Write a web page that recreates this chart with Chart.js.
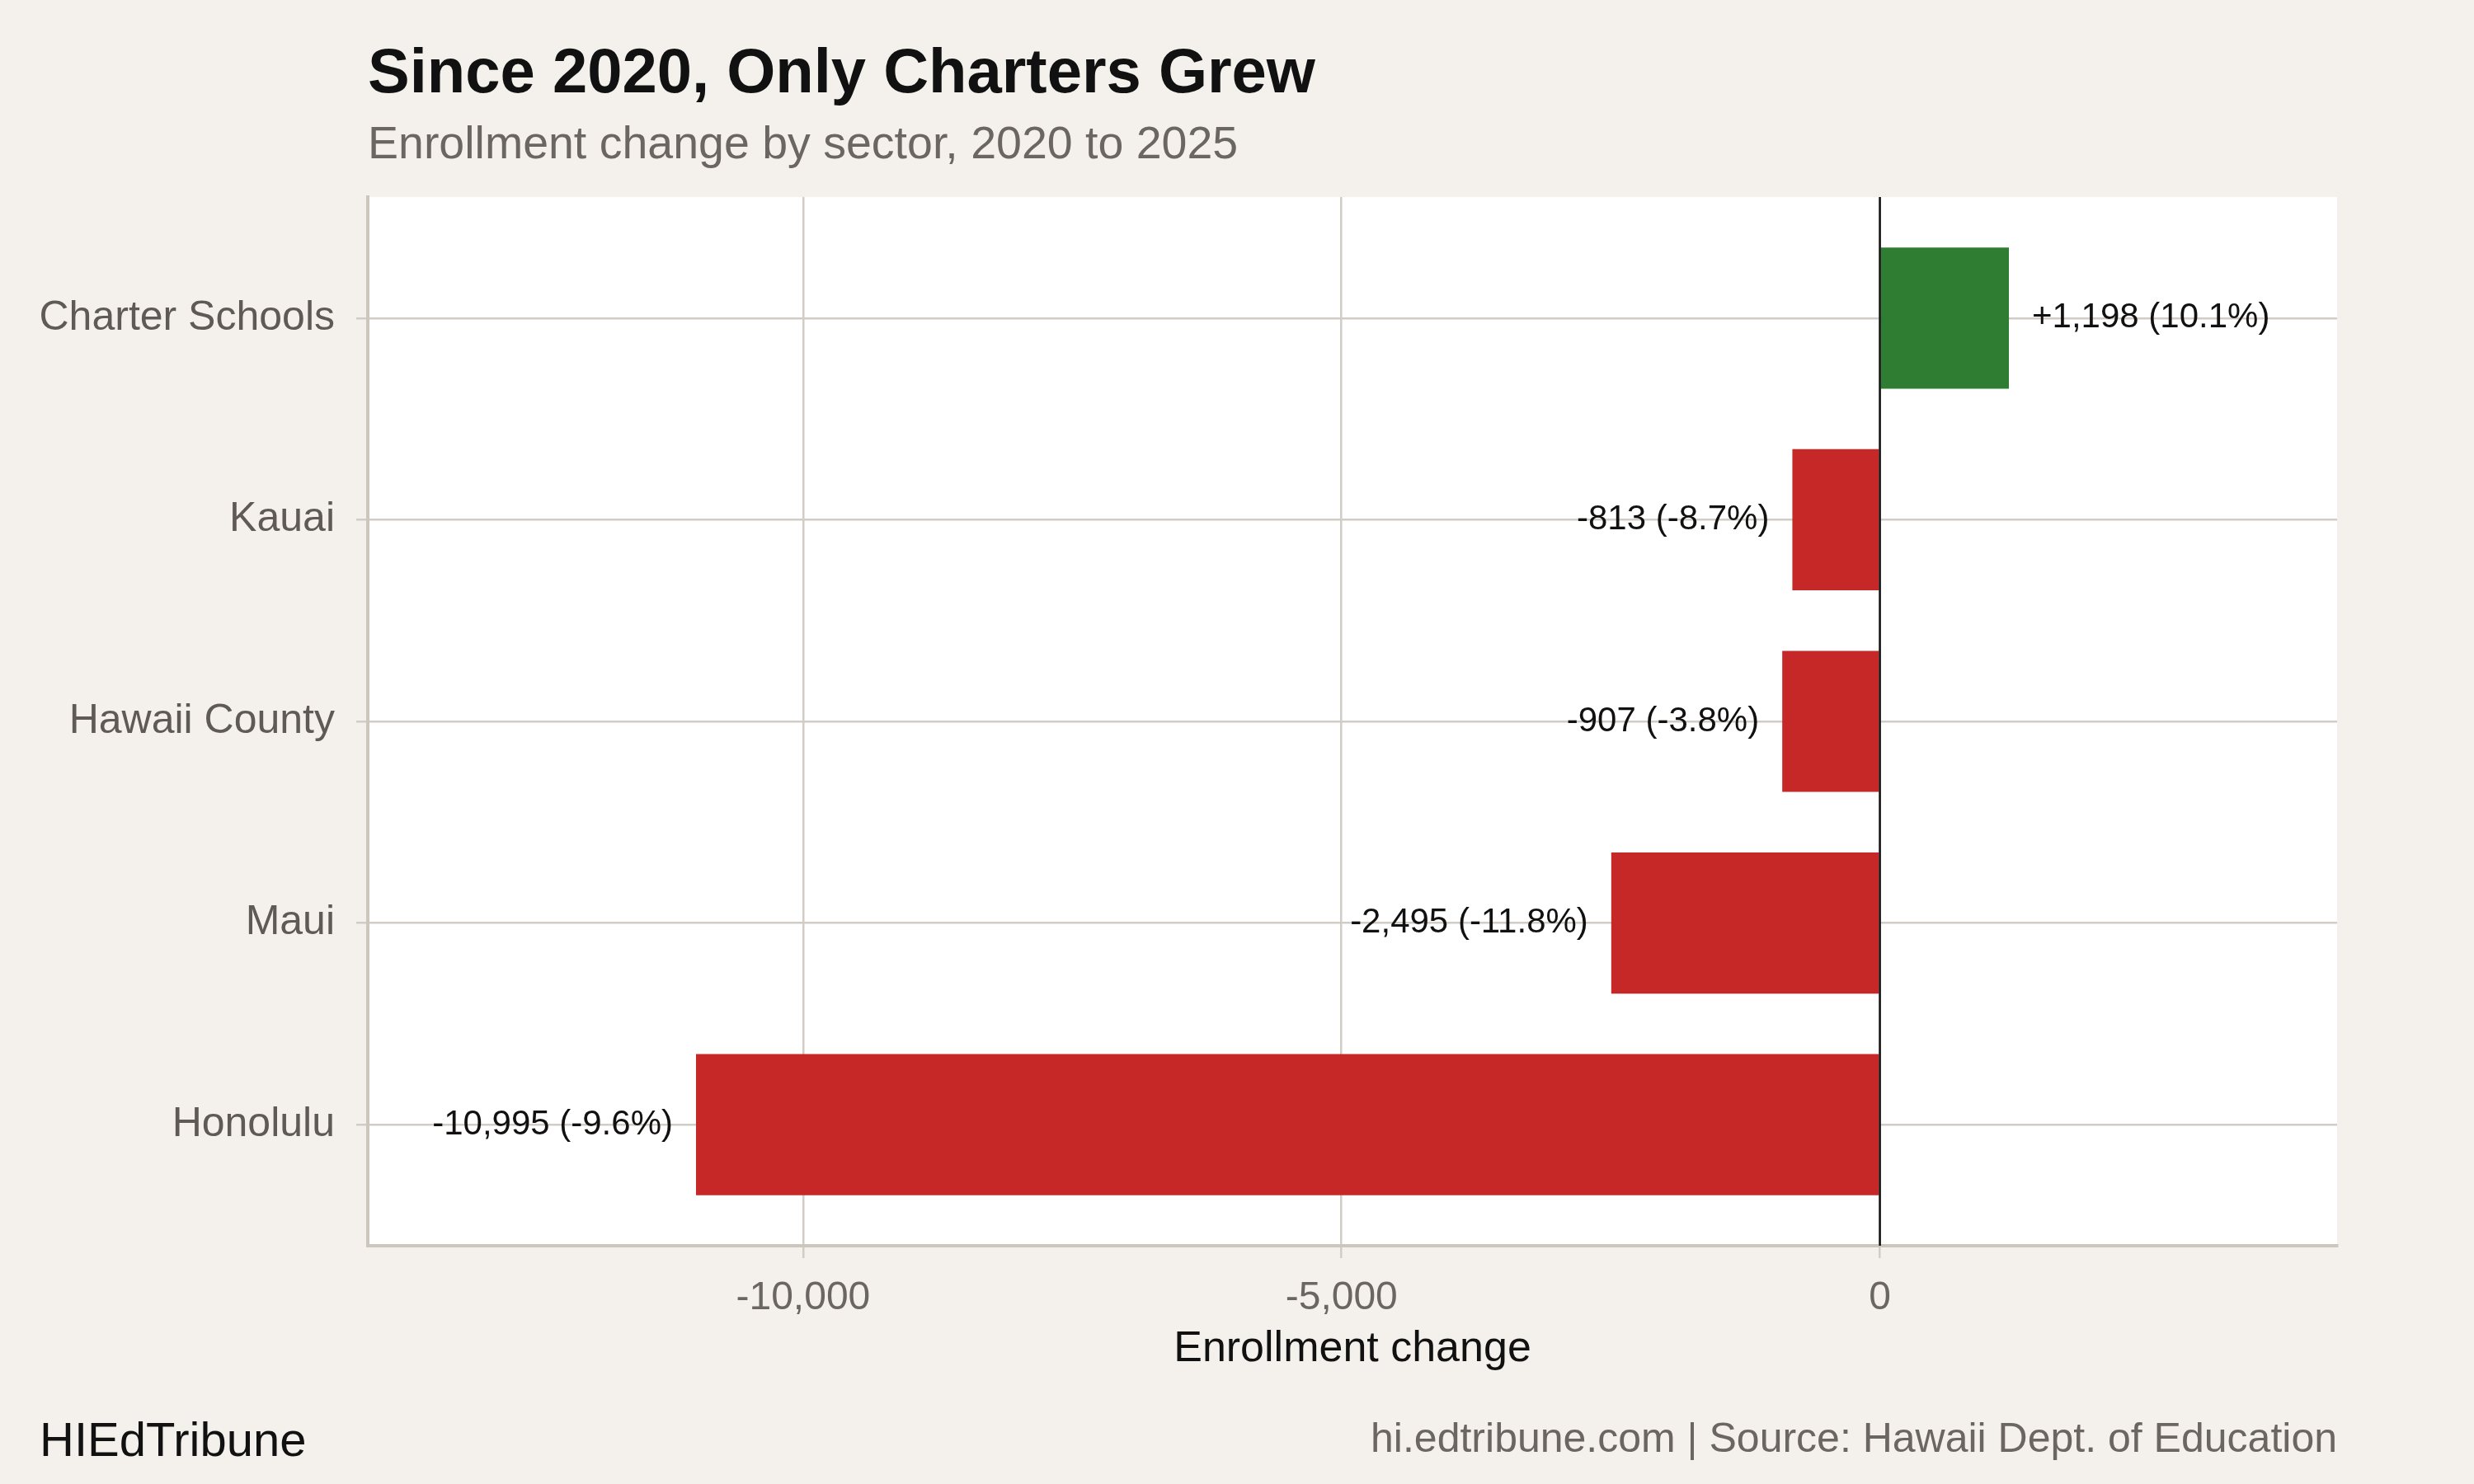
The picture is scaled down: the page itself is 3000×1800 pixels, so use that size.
<!DOCTYPE html>
<html>
<head>
<meta charset="utf-8">
<script src="https://cdn.jsdelivr.net/npm/chart.js@4"></script>
<style>
  body { margin: 0; background: #f4f1ec; }
  canvas { display: block; }
</style>
</head>
<body>
<canvas id="myChart" width="3000" height="1800"></canvas>
<script>
// data
var sectors = ['Charter Schools', 'Kauai', 'Hawaii County', 'Maui', 'Honolulu'];
var changes = [1198, -813, -907, -2495, -10995];
var pcts = [10.1, -8.7, -3.8, -11.8, -9.6];
var xTicks = [-10000, -5000, 0];
var xMin = -14043;
var xMax = 4246;

var FONT = "'Liberation Sans', Arial, Helvetica, sans-serif";
var GREEN = '#2e7d32';
var RED = '#c62828';
var GRID = '#d1ccc5';

function fmtNum(v) {
	return (v > 0 ? '+' : '') + v.toLocaleString('en-US');
}

var backdrop = {
	id: 'backdrop',
	beforeDraw: function(chart) {
		var c = chart.ctx, a = chart.chartArea;
		c.save();
		c.fillStyle = '#f4f1ec';
		c.fillRect(0, 0, chart.width, chart.height);
		c.fillStyle = '#ffffff';
		c.fillRect(a.left, a.top, a.right - a.left, a.bottom - a.top);
		c.restore();
	}
};

var annotations = {
	id: 'annotations',
	afterDatasetsDraw: function(chart) {
		var c = chart.ctx, a = chart.chartArea;
		var x0 = chart.scales.x.getPixelForValue(0);
		c.save();
		// zero line
		c.strokeStyle = '#111111';
		c.lineWidth = 2.5;
		c.beginPath();
		c.moveTo(x0, a.top);
		c.lineTo(x0, a.bottom);
		c.stroke();

		// bar labels
		var meta = chart.getDatasetMeta(0);
		c.font = '42px ' + FONT;
		c.fillStyle = '#111111';
		c.textBaseline = 'middle';
		meta.data.forEach(function(bar, i) {
			var txt = fmtNum(changes[i]) + ' (' + pcts[i].toFixed(1) + '%)';
			if (changes[i] >= 0) {
				c.textAlign = 'left';
				c.fillText(txt, bar.x + 28, bar.y);
			} else {
				c.textAlign = 'right';
				c.fillText(txt, bar.x - 28, bar.y);
			}
		});
		c.restore();
	},
	afterDraw: function(chart) {
		var c = chart.ctx, a = chart.chartArea;
		c.save();
		c.textBaseline = 'alphabetic';
		c.textAlign = 'left';
		c.fillStyle = '#111111';
		c.font = 'bold 76px ' + FONT;
		c.fillText('Since 2020, Only Charters Grew', a.left, 112);
		c.fillStyle = '#6b6661';
		c.font = '55.5px ' + FONT;
		c.fillText('Enrollment change by sector, 2020 to 2025', a.left, 192);

		c.fillStyle = '#111111';
		c.font = '52px ' + FONT;
		c.textAlign = 'center';
		c.fillText('Enrollment change', (a.left + a.right) / 2, 1651);

		c.textAlign = 'left';
		c.font = '58px ' + FONT;
		c.fillText('HIEdTribune', 48, 1766);

		c.textAlign = 'right';
		c.fillStyle = '#6b6661';
		c.font = '50px ' + FONT;
		c.fillText('hi.edtribune.com | Source: Hawaii Dept. of Education', a.right, 1761);
		c.restore();
	}
};

var ctx = document.getElementById('myChart').getContext('2d');
var chart = new Chart(ctx, {
	type: 'bar',
	data: {
		datasets: [{
			data: changes.map(function(v, i) { return { x: v, y: i }; }),
			backgroundColor: changes.map(function(v) { return v >= 0 ? GREEN : RED; }),
			borderWidth: 0,
			barPercentage: 0.7,
			categoryPercentage: 1
		}]
	},
	options: {
		indexAxis: 'y',
		responsive: false,
		animation: false,
		devicePixelRatio: 1,
		layout: { padding: { left: 0, right: 166, top: 239, bottom: 0 } },
		plugins: {
			legend: { display: false },
			tooltip: { enabled: false },
			title: { display: false }
		},
		scales: {
			x: {
				type: 'linear',
				min: xMin,
				max: xMax,
				afterBuildTicks: function(scale) {
					scale.ticks = xTicks.map(function(v) { return { value: v }; });
				},
				afterFit: function(scale) { scale.height = 289; },
				grid: { color: GRID, lineWidth: 2.5, tickLength: 15 },
				border: { display: true, color: '#cdc6bc', width: 4 },
				ticks: {
					color: '#6b6661',
					font: { family: FONT, size: 48 },
					padding: 20,
					maxRotation: 0,
					callback: function(v) { return v.toLocaleString('en-US'); }
				}
			},
			y: {
				type: 'linear',
				reverse: true,
				offset: false,
				min: -0.6,
				max: 4.6,
				afterBuildTicks: function(scale) {
					scale.ticks = sectors.map(function(s, i) { return { value: i }; });
				},
				afterFit: function(scale) { scale.width = 446; },
				grid: { color: GRID, lineWidth: 2.5, tickLength: 14, offset: false },
				border: { display: true, color: '#cdc6bc', width: 4 },
				ticks: {
					color: '#5f5a55',
					font: { family: FONT, size: 50 },
					padding: 26,
					callback: function(v) { return sectors[v]; }
				}
			}
		}
	},
	plugins: [backdrop, annotations]
});
</script>
</body>
</html>
